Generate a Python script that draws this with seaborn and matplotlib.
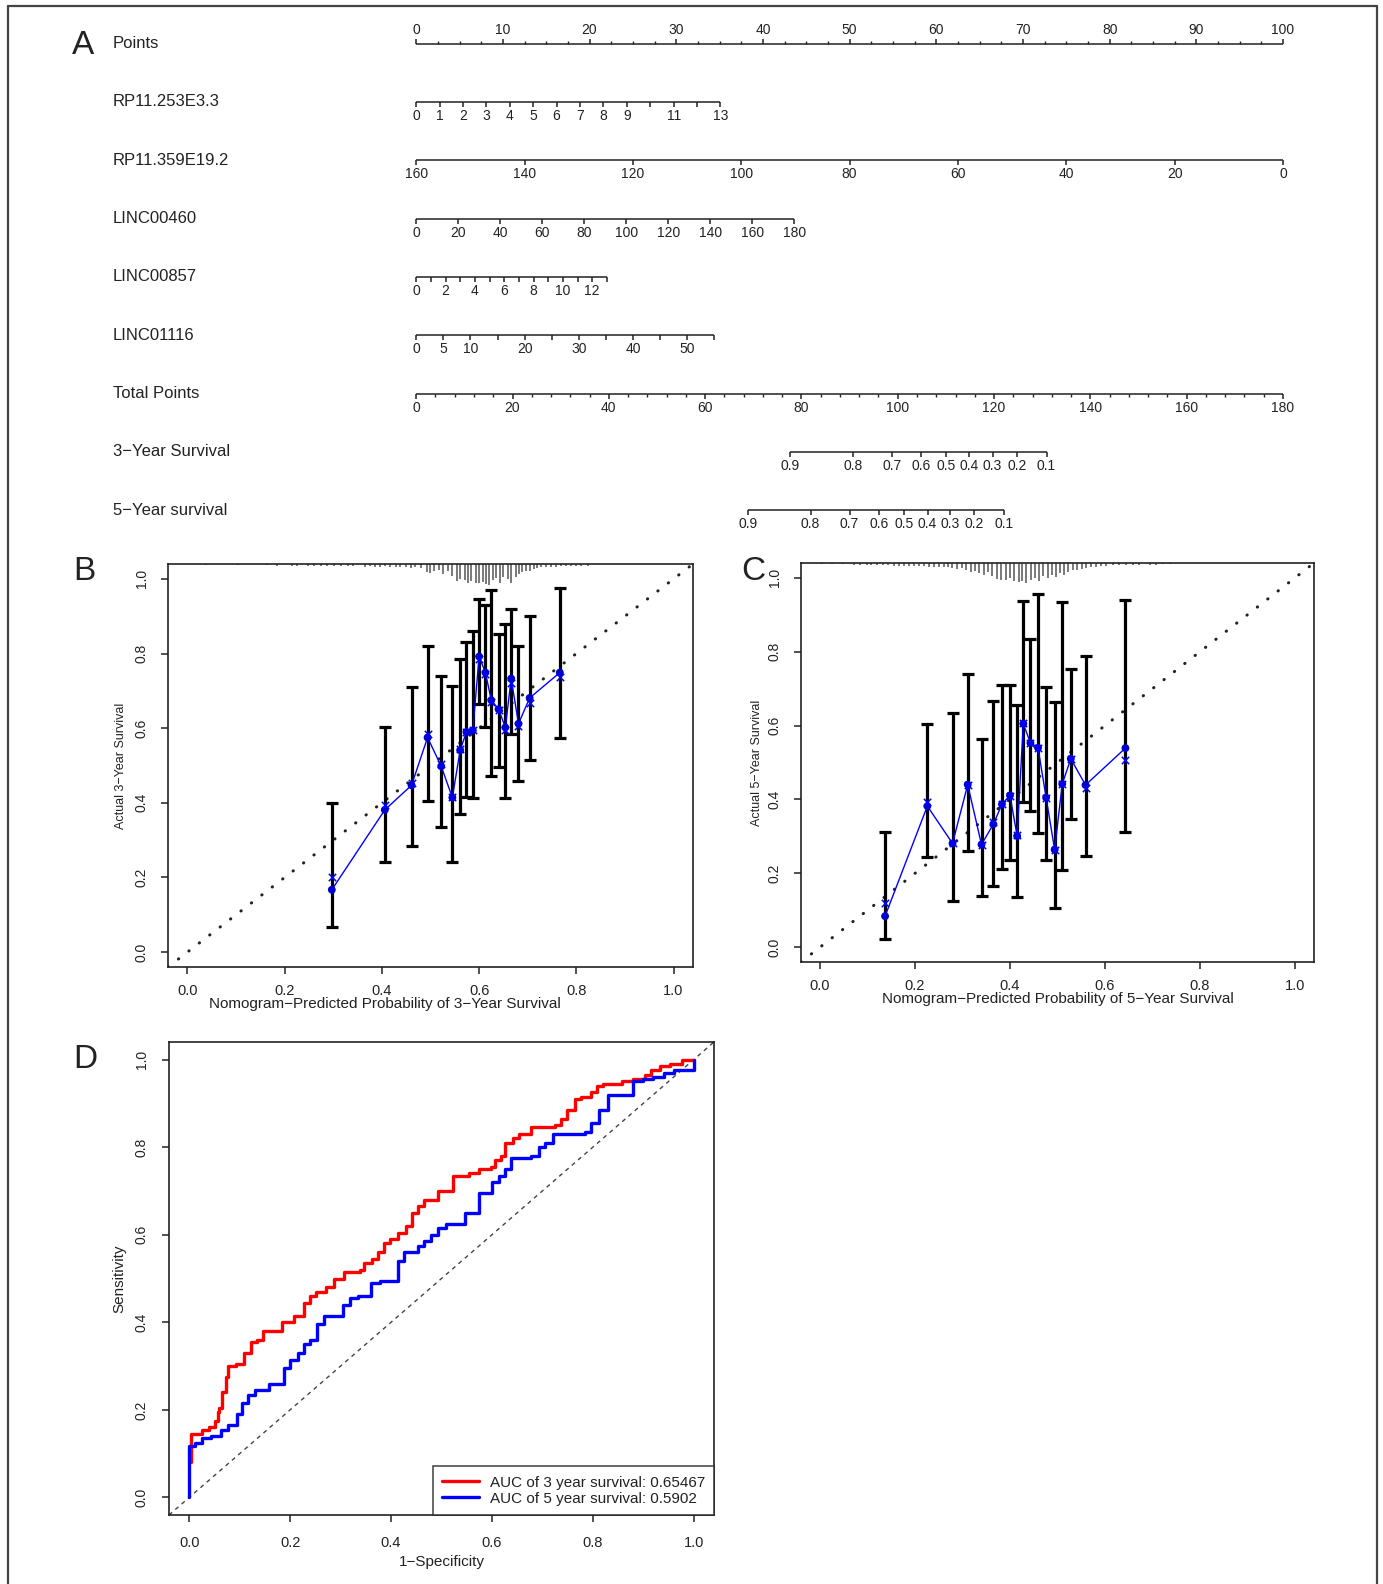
import numpy as np
import matplotlib
matplotlib.use("Agg")
import matplotlib.pyplot as plt
from matplotlib.lines import Line2D
import seaborn as sns

# ---------------- Panel A: nomogram scales ----------------
var_names = ["RP11.253E3.3", "RP11.359E19.2", "LINC00460", "LINC00857", "LINC01116"]
var_value_at_zero = [0, 160, 0, 0, 0]          # predictor value scoring 0 points
var_value_at_max = [13, 0, 180, 13, 55]        # predictor value scoring the row maximum
var_max_points = [35.1, 100.0, 43.6, 22.0, 34.4]
var_ticks = [
    list(range(0, 14)),
    list(range(160, -1, -20)),
    list(range(0, 181, 20)),
    list(range(0, 14)),
    list(range(0, 56, 5)),
]
var_tick_labels = [
    [0, 1, 2, 3, 4, 5, 6, 7, 8, 9, 11, 13],
    [160, 140, 120, 100, 80, 60, 40, 20, 0],
    [0, 20, 40, 60, 80, 100, 120, 140, 160, 180],
    [0, 2, 4, 6, 8, 10, 12],
    [0, 5, 10, 20, 30, 40, 50],
]
total_points_max = 180
surv_labels = ["0.9", "0.8", "0.7", "0.6", "0.5", "0.4", "0.3", "0.2", "0.1"]
surv3_total_points = [77.7, 90.7, 98.8, 104.9, 110.1, 114.8, 119.7, 124.7, 130.9]
surv5_total_points = [69.0, 81.9, 90.0, 96.1, 101.3, 106.2, 110.8, 115.9, 122.1]

# ---------------- Panel B: 3-year calibration ----------------
pred3 = [0.297, 0.406, 0.461, 0.494, 0.522, 0.545, 0.561, 0.574, 0.587, 0.600,
         0.613, 0.625, 0.640, 0.654, 0.666, 0.681, 0.704, 0.766]
obs3 = [0.167, 0.381, 0.447, 0.575, 0.498, 0.414, 0.541, 0.590, 0.594, 0.792,
        0.749, 0.675, 0.651, 0.602, 0.733, 0.612, 0.681, 0.749]
corr3 = [0.202, 0.394, 0.452, 0.584, 0.505, 0.416, 0.543, 0.590, 0.594, 0.786,
         0.746, 0.670, 0.648, 0.594, 0.721, 0.605, 0.668, 0.737]
lo3 = [0.068, 0.241, 0.283, 0.405, 0.336, 0.241, 0.370, 0.416, 0.413, 0.664,
       0.603, 0.471, 0.495, 0.412, 0.584, 0.459, 0.514, 0.575]
hi3 = [0.400, 0.602, 0.710, 0.820, 0.740, 0.712, 0.785, 0.830, 0.860, 0.947,
       0.930, 0.969, 0.853, 0.878, 0.920, 0.820, 0.900, 0.975]
rug3_x = [0.038, 0.104, 0.163, 0.184, 0.215, 0.226, 0.247, 0.261, 0.275, 0.288,
          0.302, 0.316, 0.330, 0.341, 0.365, 0.375, 0.386, 0.396, 0.407, 0.417,
          0.428, 0.438, 0.449, 0.459, 0.469, 0.480, 0.492, 0.499, 0.508, 0.517,
          0.525, 0.536, 0.545, 0.554, 0.561, 0.570, 0.577, 0.584, 0.593, 0.600,
          0.607, 0.614, 0.621, 0.628, 0.635, 0.643, 0.650, 0.659, 0.666, 0.675,
          0.682, 0.689, 0.696, 0.705, 0.713, 0.720, 0.728, 0.737, 0.748, 0.758,
          0.769, 0.779, 0.790, 0.800, 0.810, 0.824]
rug3_h = [0.004, 0.004, 0.004, 0.005, 0.005, 0.005, 0.005, 0.005, 0.005, 0.005,
          0.005, 0.006, 0.0065, 0.006, 0.007, 0.0065, 0.007, 0.007, 0.0065, 0.007,
          0.008, 0.007, 0.009, 0.010, 0.009, 0.012, 0.0225, 0.025, 0.020, 0.016,
          0.027, 0.018, 0.0315, 0.045, 0.040, 0.043, 0.050, 0.045, 0.050, 0.052,
          0.047, 0.054, 0.056, 0.043, 0.038, 0.050, 0.036, 0.040, 0.052, 0.034,
          0.027, 0.0225, 0.020, 0.018, 0.014, 0.010, 0.009, 0.009, 0.007, 0.007,
          0.0065, 0.0065, 0.006, 0.006, 0.006, 0.005]

# ---------------- Panel C: 5-year calibration ----------------
pred5 = [0.137, 0.226, 0.279, 0.311, 0.340, 0.365, 0.383, 0.400, 0.415, 0.428,
         0.443, 0.459, 0.476, 0.494, 0.510, 0.528, 0.559, 0.643]
obs5 = [0.084, 0.382, 0.281, 0.440, 0.278, 0.333, 0.387, 0.411, 0.301, 0.605,
        0.553, 0.540, 0.405, 0.264, 0.442, 0.510, 0.439, 0.539]
corr5 = [0.120, 0.393, 0.281, 0.440, 0.278, 0.339, 0.389, 0.409, 0.303, 0.607,
         0.553, 0.540, 0.404, 0.264, 0.442, 0.510, 0.431, 0.507]
lo5 = [0.022, 0.243, 0.125, 0.261, 0.138, 0.166, 0.213, 0.237, 0.137, 0.393,
       0.369, 0.308, 0.237, 0.105, 0.209, 0.346, 0.246, 0.312]
hi5 = [0.312, 0.605, 0.633, 0.739, 0.564, 0.667, 0.710, 0.710, 0.655, 0.937,
       0.835, 0.957, 0.705, 0.664, 0.934, 0.754, 0.787, 0.939]
rug5_x = [0.004, 0.025, 0.049, 0.071, 0.085, 0.099, 0.108, 0.120, 0.132, 0.144,
          0.155, 0.166, 0.176, 0.187, 0.197, 0.208, 0.218, 0.229, 0.239, 0.250,
          0.261, 0.270, 0.278, 0.289, 0.299, 0.308, 0.317, 0.326, 0.335, 0.345,
          0.354, 0.363, 0.373, 0.382, 0.391, 0.399, 0.408, 0.418, 0.426, 0.434,
          0.444, 0.453, 0.461, 0.470, 0.479, 0.488, 0.496, 0.505, 0.514, 0.523,
          0.532, 0.542, 0.551, 0.560, 0.570, 0.581, 0.591, 0.602, 0.616, 0.630,
          0.644, 0.658, 0.672, 0.694, 0.708, 0.722, 0.736]
rug5_h = [0.004, 0.004, 0.004, 0.005, 0.005, 0.005, 0.006, 0.006, 0.0065, 0.0065,
          0.007, 0.007, 0.008, 0.009, 0.008, 0.008, 0.009, 0.010, 0.010, 0.011,
          0.012, 0.011, 0.013, 0.016, 0.014, 0.020, 0.025, 0.0225, 0.027, 0.0315,
          0.025, 0.034, 0.043, 0.045, 0.047, 0.040, 0.050, 0.052, 0.050, 0.054,
          0.045, 0.040, 0.050, 0.036, 0.040, 0.0315, 0.038, 0.027, 0.0315, 0.025,
          0.020, 0.018, 0.016, 0.014, 0.012, 0.010, 0.009, 0.007, 0.0065, 0.0065,
          0.006, 0.005, 0.005, 0.005, 0.005, 0.004, 0.004]

# ---------------- Panel D: ROC curves ----------------
fpr3 = [0.004, 0.004, 0.026, 0.040, 0.052, 0.057, 0.060, 0.066, 0.072, 0.077,
        0.092, 0.109, 0.122, 0.135, 0.147, 0.183, 0.207, 0.227, 0.239, 0.251,
        0.271, 0.287, 0.307, 0.339, 0.347, 0.363, 0.375, 0.386, 0.398, 0.414,
        0.430, 0.442, 0.454, 0.466, 0.494, 0.522, 0.554, 0.574, 0.598, 0.606,
        0.618, 0.625, 0.641, 0.653, 0.677, 0.725, 0.737, 0.749, 0.765, 0.777,
        0.797, 0.809, 0.821, 0.857, 0.880, 0.904, 0.916, 0.932, 0.952, 0.976, 1.000]
tpr3 = [0.080, 0.145, 0.155, 0.160, 0.175, 0.195, 0.205, 0.240, 0.275, 0.300,
        0.305, 0.330, 0.355, 0.360, 0.380, 0.400, 0.415, 0.445, 0.460, 0.470,
        0.480, 0.500, 0.515, 0.520, 0.535, 0.545, 0.560, 0.580, 0.590, 0.605,
        0.620, 0.650, 0.665, 0.680, 0.700, 0.735, 0.740, 0.750, 0.755, 0.770,
        0.780, 0.810, 0.820, 0.830, 0.845, 0.850, 0.865, 0.885, 0.910, 0.915,
        0.925, 0.940, 0.945, 0.950, 0.955, 0.965, 0.975, 0.985, 0.990, 1.000, 1.000]
fpr5 = [0.000, 0.000, 0.012, 0.026, 0.044, 0.064, 0.076, 0.094, 0.105, 0.117,
        0.131, 0.159, 0.187, 0.199, 0.215, 0.227, 0.239, 0.253, 0.267, 0.304,
        0.319, 0.335, 0.361, 0.378, 0.413, 0.426, 0.454, 0.466, 0.480, 0.494,
        0.508, 0.546, 0.574, 0.600, 0.614, 0.625, 0.637, 0.677, 0.693, 0.705,
        0.721, 0.785, 0.797, 0.813, 0.829, 0.880, 0.900, 0.920, 0.940, 0.960,
        1.000, 1.000]
tpr5 = [0.000, 0.117, 0.125, 0.135, 0.140, 0.155, 0.165, 0.190, 0.215, 0.235,
        0.245, 0.260, 0.295, 0.315, 0.330, 0.350, 0.360, 0.395, 0.415, 0.440,
        0.455, 0.460, 0.490, 0.495, 0.540, 0.560, 0.575, 0.585, 0.600, 0.615,
        0.625, 0.650, 0.695, 0.720, 0.735, 0.750, 0.775, 0.780, 0.800, 0.810,
        0.830, 0.835, 0.855, 0.885, 0.920, 0.950, 0.955, 0.960, 0.970, 0.975,
        0.975, 1.000]
auc3 = "0.65467"
auc5 = "0.5902"

# ---------------- styling ----------------
INK = "#222222"
sns.set_theme(style="ticks", rc={"axes.edgecolor": INK, "axes.linewidth": 1.2,
                                 "xtick.color": INK, "ytick.color": INK})
plt.rcParams["font.family"] = ["Liberation Sans", "DejaVu Sans"]

W, H, DPI = 1383, 1584, 100
fig = plt.figure(figsize=(W / DPI, H / DPI), dpi=DPI)
fig.patch.set_facecolor("white")


def add_px_axes(left, top, right, bottom):
    return fig.add_axes([left / W, 1 - bottom / H, (right - left) / W, (bottom - top) / H])


# ---------------- nomogram ----------------
X0, PPU = 416.2, 8.668          # pixel of 0 points, pixels per point
NOM_H = 545
nom = add_px_axes(0, 0, W, NOM_H)
nom.set_xlim(-X0 / PPU, (W - X0) / PPU)
nom.set_ylim(NOM_H, 0)
nom.axis("off")
label_x = (113 - X0) / PPU
row_y = [43.6 + 58.34 * i for i in range(9)]


def draw_scale(y, major, labelled, minor=(), up=False):
    sgn = -1 if up else 1
    allpos = list(major) + list(minor)
    nom.plot([min(allpos), max(allpos)], [y, y], color=INK, lw=1.1, solid_capstyle="butt")
    nom.vlines(major, y, y + sgn * 5, color=INK, lw=1.1)
    if len(minor):
        nom.vlines(minor, y, y + sgn * 3, color=INK, lw=1.0)
    for p, t in labelled:
        nom.text(p, y + sgn * 14.0, t, ha="center", va="center", fontsize=10, color=INK)


row_names = ["Points"] + var_names + ["Total Points", "3\u2212Year Survival", "5\u2212Year survival"]
for y, name in zip(row_y, row_names):
    nom.text(label_x, y, name, ha="left", va="center", fontsize=12, color=INK)

# Points row
pts_major = list(range(0, 101, 10))
pts_minor = [v for v in np.arange(0, 100.01, 2.5) if v % 10 != 0]
draw_scale(row_y[0], pts_major, [(v, str(v)) for v in pts_major], pts_minor, up=True)

# predictor rows
for i in range(len(var_names)):
    a, b, m = var_value_at_zero[i], var_value_at_max[i], var_max_points[i]
    to_pts = lambda v, a=a, b=b, m=m: (v - a) / (b - a) * m
    major = [to_pts(v) for v in var_ticks[i]]
    labs = [(to_pts(v), str(v)) for v in var_tick_labels[i]]
    draw_scale(row_y[i + 1], major, labs)

# Total points row
tp = lambda v: v / total_points_max * 100
tp_major = list(range(0, 181, 20))
tp_minor = [v for v in range(0, 181, 4) if v % 20 != 0]
draw_scale(row_y[6], [tp(v) for v in tp_major], [(tp(v), str(v)) for v in tp_major],
           [tp(v) for v in tp_minor])

# survival rows
draw_scale(row_y[7], [tp(v) for v in surv3_total_points],
           [(tp(v), s) for v, s in zip(surv3_total_points, surv_labels)])
draw_scale(row_y[8], [tp(v) for v in surv5_total_points],
           [(tp(v), s) for v, s in zip(surv5_total_points, surv_labels)])

# ---------------- calibration panels ----------------
TICKS = [0, 0.2, 0.4, 0.6, 0.8, 1.0]
TICKLAB = ["0.0", "0.2", "0.4", "0.6", "0.8", "1.0"]


def style_axes(ax, xpad, ypad):
    ax.set_xlim(-0.04, 1.04)
    ax.set_ylim(-0.04, 1.04)
    ax.set_xticks(TICKS)
    ax.set_xticklabels(TICKLAB)
    ax.set_yticks(TICKS)
    ax.set_yticklabels(TICKLAB)
    ax.tick_params(axis="both", direction="out", length=5, width=1.1,
                   color=INK, labelcolor=INK)
    ax.tick_params(axis="x", labelsize=10.5, pad=xpad)
    ax.tick_params(axis="y", labelsize=10, pad=ypad, labelrotation=90)
    for t in ax.get_yticklabels():
        t.set_va("center")
        t.set_ha("right")
    for s in ax.spines.values():
        s.set_visible(True)
        s.set_color(INK)
        s.set_linewidth(1.2)
    ax.grid(False)


def calib_panel(ax, pred, obs, corr, lo, hi, rug_x, rug_h, xlabel, ylabel, xl_pos, yl_x):
    style_axes(ax, 7, 9)
    ax.plot([-0.04, 1.04], [-0.04, 1.04], ls=(0, (0.1, 4.2)), lw=2.2, color=INK,
            dash_capstyle="round", zorder=1)
    ax.vlines(rug_x, 1.04 - np.array(rug_h), 1.04, color="#555555", lw=1.1, zorder=2)
    ax.errorbar(pred, obs, yerr=[np.subtract(obs, lo), np.subtract(hi, obs)],
                fmt="none", ecolor="black", elinewidth=2.3, capsize=4, capthick=2.3, zorder=3)
    sns.lineplot(x=pred, y=obs, ax=ax, color="blue", lw=1.0, estimator=None,
                 sort=False, zorder=4)
    ax.scatter(pred, obs, s=32, color="#0000cc", edgecolors="none", zorder=5)
    ax.scatter(pred, corr, marker="x", s=28, color="blue", linewidths=1.1, zorder=5)
    ax.set_xlabel(xlabel, fontsize=11, color=INK)
    ax.set_ylabel(ylabel, fontsize=9, color=INK)
    ax.xaxis.set_label_coords(*xl_pos)
    ax.yaxis.set_label_coords(yl_x, 0.5)


axB = add_px_axes(168, 564, 693, 967)
calib_panel(axB, pred3, obs3, corr3, lo3, hi3, rug3_x, rug3_h,
            "Nomogram\u2212Predicted Probability of 3\u2212Year Survival",
            "Actual 3\u2212Year Survival", (0.413, -0.074), -0.078)

axC = add_px_axes(801, 563, 1314, 962)
calib_panel(axC, pred5, obs5, corr5, lo5, hi5, rug5_x, rug5_h,
            "Nomogram\u2212Predicted Probability of 5\u2212Year Survival",
            "Actual 5\u2212Year Survival", (0.5, -0.074), -0.075)

# ---------------- ROC panel ----------------
axD = add_px_axes(169, 1042, 714, 1515)
style_axes(axD, 10, 9.5)
axD.plot([-0.04, 1.04], [-0.04, 1.04], ls=(0, (3, 3)), lw=1.0, color="#444444", zorder=1)
sns.lineplot(x=fpr3, y=tpr3, ax=axD, color="red", lw=2.4, estimator=None, sort=False,
             drawstyle="steps-post", zorder=3)
sns.lineplot(x=fpr5, y=tpr5, ax=axD, color="blue", lw=2.4, estimator=None, sort=False,
             drawstyle="steps-post", zorder=4)
axD.set_xlabel("1\u2212Specificity", fontsize=11, color=INK)
axD.set_ylabel("Sensitivity", fontsize=11, color=INK)
axD.xaxis.set_label_coords(0.5, -0.085)
axD.yaxis.set_label_coords(-0.079, 0.5)
handles = [Line2D([], [], color="red", lw=2.4), Line2D([], [], color="blue", lw=2.4)]
leg = axD.legend(handles, [f"AUC of 3 year survival: {auc3}", f"AUC of 5 year survival: {auc5}"],
                 loc="lower right", bbox_to_anchor=(1, 0), borderaxespad=0, frameon=True,
                 fancybox=False, edgecolor=INK, fontsize=11, handlelength=2.4,
                 handletextpad=0.7, borderpad=0.6, labelspacing=0.15)
leg.get_frame().set_linewidth(1.2)
for t in leg.get_texts():
    t.set_color(INK)

# ---------------- panel letters and outer frame ----------------
for letter, x, y in [("A", 83, 45.5), ("B", 84, 571), ("C", 753, 571), ("D", 85, 1059)]:
    fig.text(x / W, 1 - y / H, letter, fontsize=24, ha="center", va="center", color=INK)

frame_kw = dict(color="#444444", lw=1.6, transform=fig.transFigure)
fig.add_artist(Line2D([8 / W, 1377 / W], [1 - 6 / H, 1 - 6 / H], **frame_kw))
fig.add_artist(Line2D([8 / W, 8 / W], [1 - 6 / H, 0], **frame_kw))
fig.add_artist(Line2D([1377 / W, 1377 / W], [1 - 6 / H, 0], **frame_kw))

fig.savefig("out.png", dpi=DPI, facecolor="white")
